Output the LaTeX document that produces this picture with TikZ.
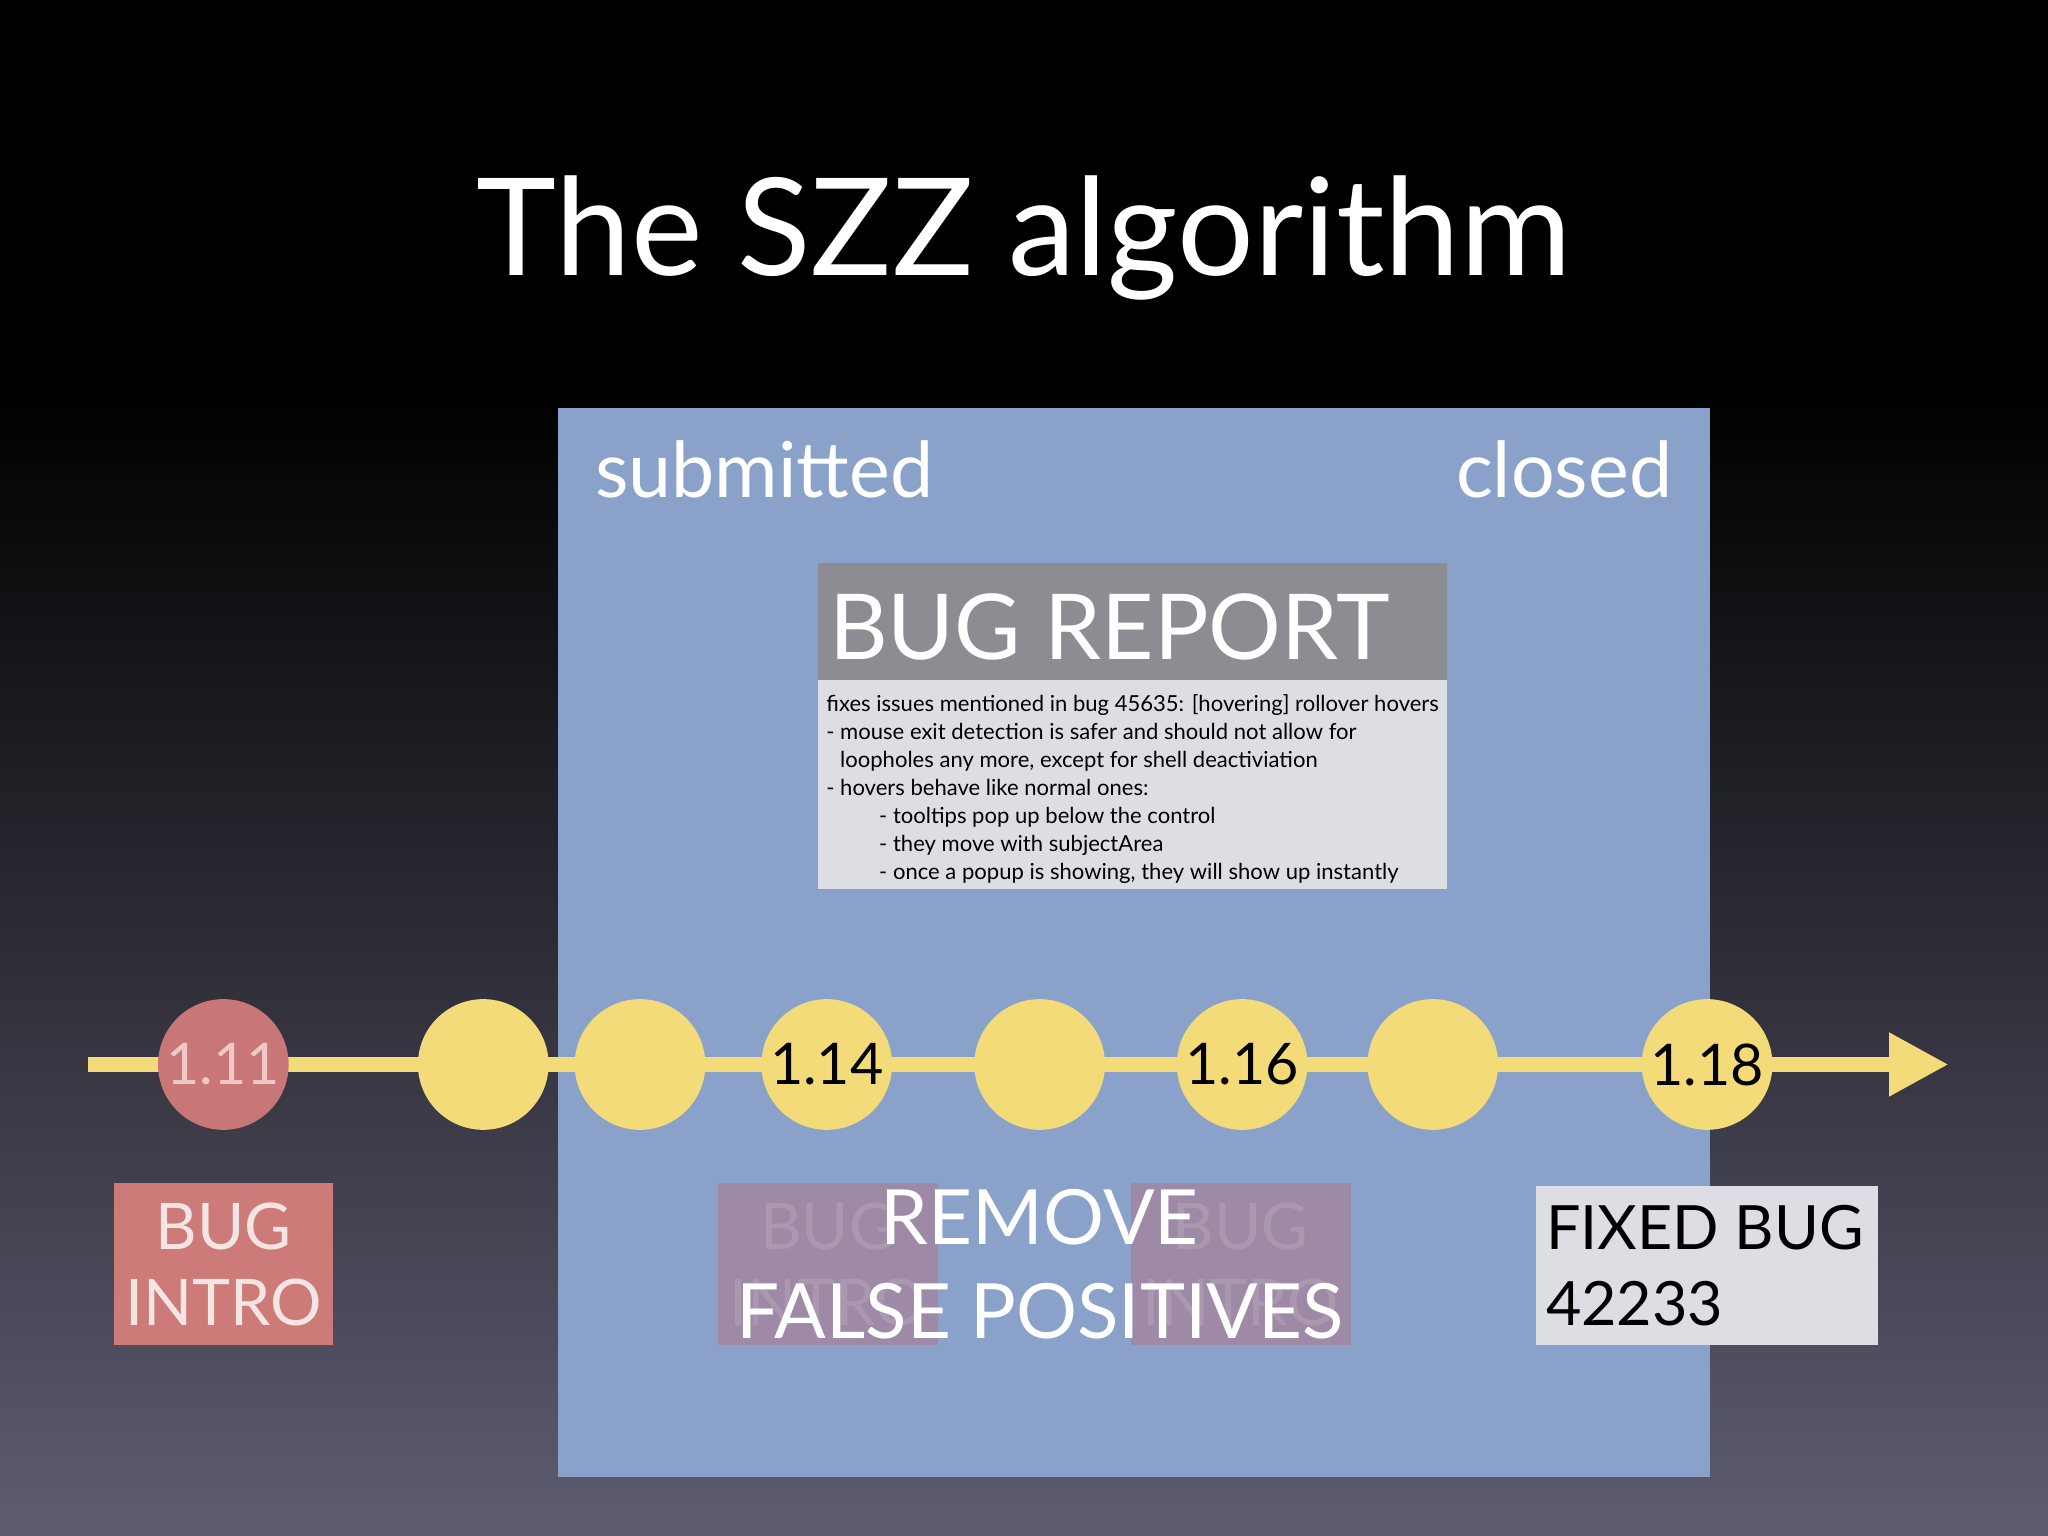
\documentclass[tikz,border=0pt]{standalone}
\usepackage{fontspec}
\setmainfont{Lato}
\usetikzlibrary{arrows.meta}
\definecolor{panel}{HTML}{8AA2CA}
\definecolor{ylw}{HTML}{F3DB7A}
\definecolor{redc}{HTML}{C87676}
\definecolor{bugred}{HTML}{CC7B78}
\definecolor{fadered}{HTML}{9E8AA6}
\definecolor{hdr}{HTML}{8C8D93}
\definecolor{txtbox}{HTML}{DDDEE3}
\definecolor{bgbot}{HTML}{5E5C70}
\tikzset{
  ver/.style={circle,fill=ylw,minimum size=1cm,inner sep=0pt,font=\fontsize{12.5}{13}\selectfont,text=black},
  bigw/.style={text=white,font=\fontsize{14}{16.5}\selectfont,align=center,inner sep=0pt}
}
\begin{document}
\begin{tikzpicture}[x=0.01cm,y=-0.01cm]
\useasboundingbox (0,0) rectangle (1568,1176);
\fill[black] (0,0) rectangle (1568,300);
\shade[top color=black,bottom color=bgbot] (0,299) rectangle (1568,1176);
\node[text=white,font=\fontsize{29.5}{30}\selectfont] (title) at (784,182) {The SZZ algorithm};
\fill[panel] (427,312) rectangle (1309,1131);
\node[text=white,font=\fontsize{16.8}{18}\selectfont,anchor=base west,inner sep=0pt] (sub) at (455,381) {submitted};
\node[text=white,font=\fontsize{16.8}{18}\selectfont,anchor=base east,inner sep=0pt] (clo) at (1281,381) {closed};
\fill[hdr] (626,431) rectangle (1108,521);
\node[text=white,font=\fontsize{19.8}{22}\selectfont,anchor=base west,inner sep=0pt] (br) at (634,505) {BUG REPORT};
\fill[txtbox] (626,521) rectangle (1108,681);
\node[anchor=north west,inner sep=0pt,align=left,font=\fontsize{4.8}{6.1}\selectfont] (rep) at (632,531)
 {fixes issues mentioned in bug 45635: [hovering] rollover hovers\\
  - mouse exit detection is safer and should not allow for\\
  \hspace*{3pt}loopholes any more, except for shell deactiviation\\
  - hovers behave like normal ones:\\
  \hspace*{11.5pt}- tooltips pop up below the control\\
  \hspace*{11.5pt}- they move with subjectArea\\
  \hspace*{11.5pt}- once a popup is showing, they will show up instantly};
% timeline
\coordinate (ts) at (67,815);
\coordinate (te) at (1492,815);
\draw[ylw,line width=3.4pt,-{Triangle[length=13pt,width=13pt]}] (ts) -- (te);
\node[ver,fill=redc,text={rgb,255:red,240;green,200;blue,200}] (v11) at (171,815) {1.11};
\node[ver] (v12) at (370,815) {};
\node[ver] (v13) at (490,815) {};
\node[ver] (v14) at (633,815) {1.14};
\node[ver] (v15) at (796,815) {};
\node[ver] (v16) at (951,815) {1.16};
\node[ver] (v17) at (1097,815) {};
\node[ver] (v18) at (1307,815) {1.18};
% bug intro
\fill[bugred] (87,906) rectangle (255,1030);
\node[bigw,text={rgb,255:red,245;green,228;blue,228}] (bi) at (171,968) {BUG\\INTRO};
% faded
\fill[fadered] (550,906) rectangle (718,1030);
\fill[fadered] (866,906) rectangle (1034,1030);
\node[bigw,opacity=0.12] (f1) at (634,968) {BUG\\INTRO};
\node[bigw,opacity=0.12] (f2) at (950,968) {BUG\\INTRO};
\node[text=white,font=\fontsize{16.6}{20.5}\selectfont,align=center,inner sep=0pt] (rm) at (796,968) {REMOVE\\FALSE POSITIVES};
% fixed
\fill[txtbox] (1176,908) rectangle (1438,1030);
\node[anchor=west,align=left,inner sep=0pt,font=\fontsize{13.3}{16.5}\selectfont] (fx) at (1183,969) {FIXED BUG\\42233};
\end{tikzpicture}
\end{document}
